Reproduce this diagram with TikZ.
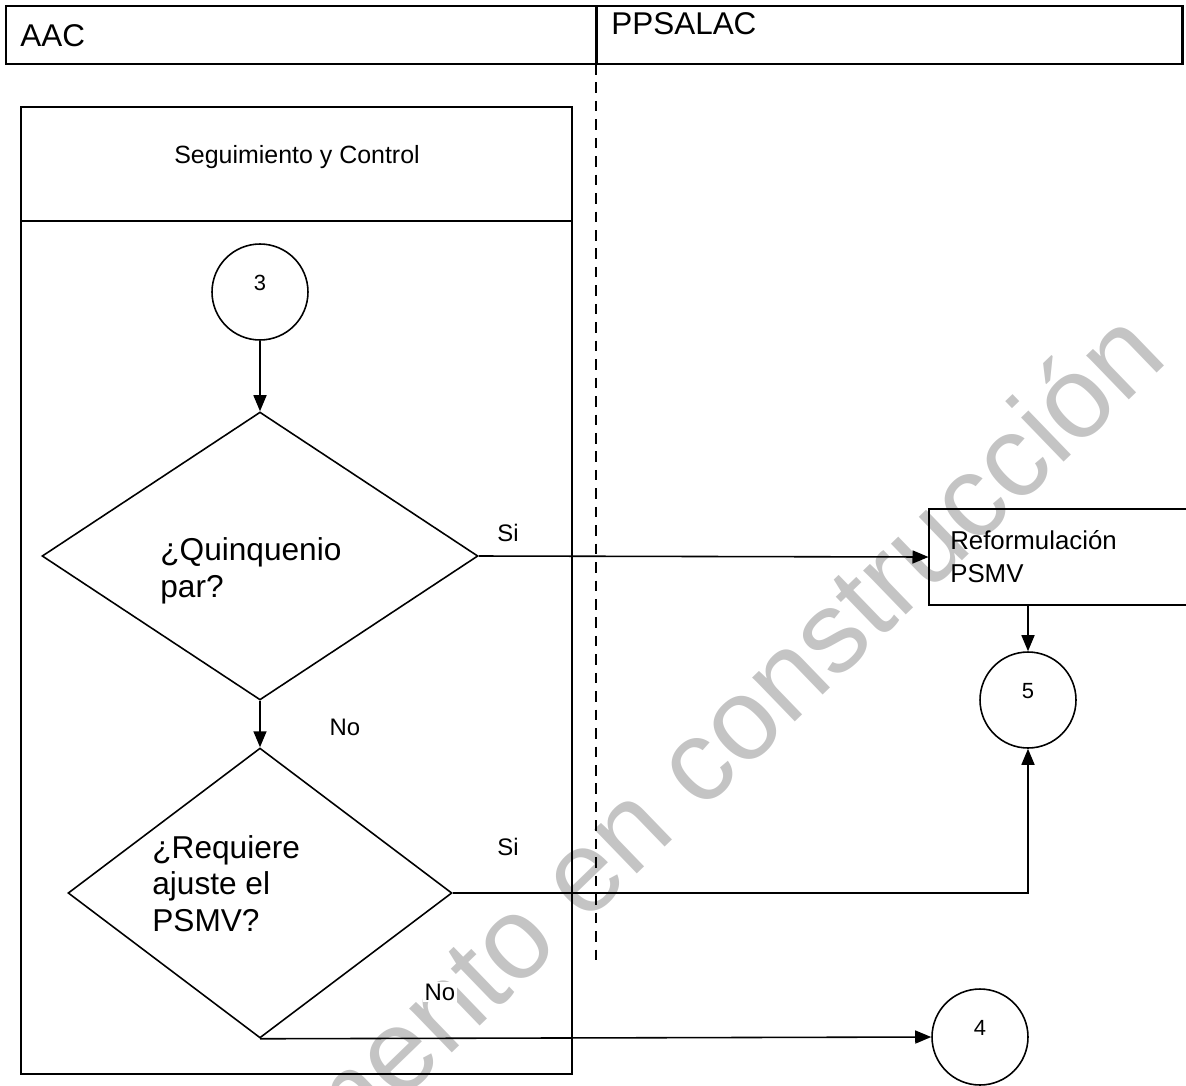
\documentclass[tikz,border=0pt]{standalone}
\usepackage{fontspec}
\setmainfont{Liberation Sans}
\usepackage{xcolor}
\usetikzlibrary{arrows.meta,positioning,shapes.geometric}
\definecolor{markGray}{HTML}{C4C4C4}

\begin{document}
\begin{tikzpicture}[x=0.02cm,y=-0.02cm,>={Triangle[length=3.2mm,width=2.6mm]},
  lane/.style={draw,line width=1.2pt},
  decision/.style={diamond,draw,line width=0.9pt,inner sep=0pt},
  conn/.style={circle,draw,line width=0.9pt,minimum size=1.92cm,inner sep=0pt,
    text height=9pt,text depth=11pt,font=\fontsize{12.5}{14}\selectfont},
  flow/.style={->,line width=0.9pt},
  lbl/.style={fill=white,inner sep=1pt,font=\fontsize{13.6}{16}\selectfont},
  qtext/.style={align=left,inner sep=0pt,anchor=north west}]
\useasboundingbox (0,0) rectangle (1186,1085);
% watermark
\begin{scope}
\clip (0,0) rectangle (1186,1085);
\node[markGray,rotate=44,anchor=base east,inner sep=0pt,
  font=\fontsize{66}{70}\selectfont] (mark) at (1170,360) {Documento en construcción};
\end{scope}
% header
\draw[line width=1.7pt] (6,6) rectangle (1182,64);
\draw[line width=1.7pt] (596,6) -- (596,64);
\node[anchor=west,inner sep=0pt,font=\fontsize{17.9}{20}\selectfont] (aac) at (20,36) {AAC};
\node[anchor=north west,inner sep=0pt,font=\fontsize{17.9}{20}\selectfont] (ppsalac) at (611,12) {PPSALAC};
\draw[line width=0.9pt,dash pattern=on 6pt off 4.5pt] (596,64) -- (596,965);
% lane
\draw[lane] (21,107) rectangle (572,1074);
\draw[lane] (21,221) -- (572,221);
\node[font=\fontsize{14.2}{16}\selectfont] (title) at (297,157) {Seguimiento y Control};
% flow
\node[conn] (c3) at (260,292) {3};
\node[decision,minimum width=8.72cm,minimum height=5.76cm] (d1) at (260,556) {};
\node[qtext,font=\fontsize{18}{21}\selectfont] (q1) at (160,537) {¿Quinquenio\\par?};
\node[decision,minimum width=7.68cm,minimum height=5.8cm] (d2) at (260,893) {};
\node[qtext,font=\fontsize{18}{20.7}\selectfont] (q2) at (152,835) {¿Requiere\\ajuste el\\PSMV?};
\node[draw,line width=0.9pt,align=left,text width=4.31cm,inner xsep=0.42cm,
  minimum height=1.92cm,font=\fontsize{14.7}{18.7}\selectfont] (reform) at (1058,557)
  {Reformulación\\PSMV};
\node[conn] (c5) at (1028,700) {5};
\node[conn] (c4) at (980,1037) {4};
\draw[flow] (c3) -- (d1.north);
\draw[flow] (d1.east) -- (reform.west);
\draw[flow] (d1.south) -- (d2.north);
\draw[flow] (reform.south -| c5.north) -- (c5.north);
\draw[flow] (d2.east) -| (c5.south);
\draw[flow] (d2.south) -- (c4.west);
\node[lbl] (si1) at (508,533) {Si};
\node[lbl] (no1) at (345,727) {No};
\node[lbl] (si2) at (508,847) {Si};
\node[lbl] (no2) at (440,992) {No};
\end{tikzpicture}
\end{document}
